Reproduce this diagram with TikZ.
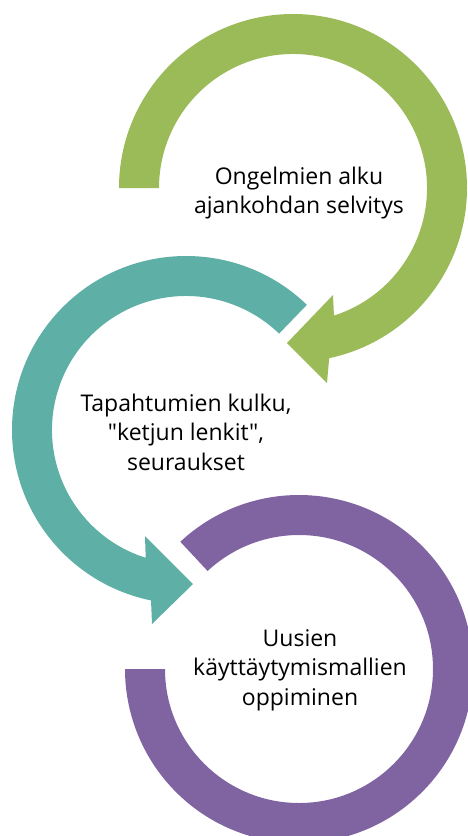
\documentclass[tikz,border=0pt]{standalone}
\usepackage{fontspec}
\setmainfont{Open Sans}[Ligatures=TeXOff]
\usetikzlibrary{calc}
\definecolor{cgreen}{HTML}{9BBB59}
\definecolor{cteal}{HTML}{5EAFA6}
\definecolor{cpurple}{HTML}{8064A2}
\begin{document}
\begin{tikzpicture}[x=1pt,y=-1pt,
  lbl/.style={font=\fontsize{23}{29.5}\selectfont, align=center, text=black, inner sep=0pt}]
\useasboundingbox (0,0) rectangle (468,836);
\clip (0,0) rectangle (468,836);
\coordinate (gc) at (293,188);
\coordinate (tc) at (186,430);
\coordinate (pc) at (299,669);
% purple ring
\fill[cpurple] ($(pc)+(-133:174)$) arc[start angle=-133, end angle=180, radius=174]
  -- ($(pc)+(180:134)$) arc[start angle=180, end angle=-133, radius=134] -- cycle;
% teal arrow
\fill[cteal] ($(tc)+(-46:174)$) arc[start angle=-46, end angle=-258.4, radius=174]
  -- (152,624) -- (193,584) -- (145,536)
  -- ($(tc)+(-252.5:134)$) arc[start angle=-252.5, end angle=-46, radius=134] -- cycle;
% green arrow
\fill[cgreen] ($(gc)+(180:174)$) arc[start angle=180, end angle=438, radius=174]
  -- (327,383) -- (287,343) -- (333,295)
  -- ($(gc)+(432.2:134)$) arc[start angle=432.2, end angle=180, radius=134] -- cycle;
% labels
\node[lbl] (t1) at (299,193) {Ongelmien alku\\ajankohdan selvitys};
\node[lbl] (t2) at (186,432) {Tapahtumien kulku,\\"ketjun lenkit",\\seuraukset};
\node[lbl] (t3) at (300,670) {Uusien\\käyttäytymismallien\\oppiminen};
\end{tikzpicture}
\end{document}
